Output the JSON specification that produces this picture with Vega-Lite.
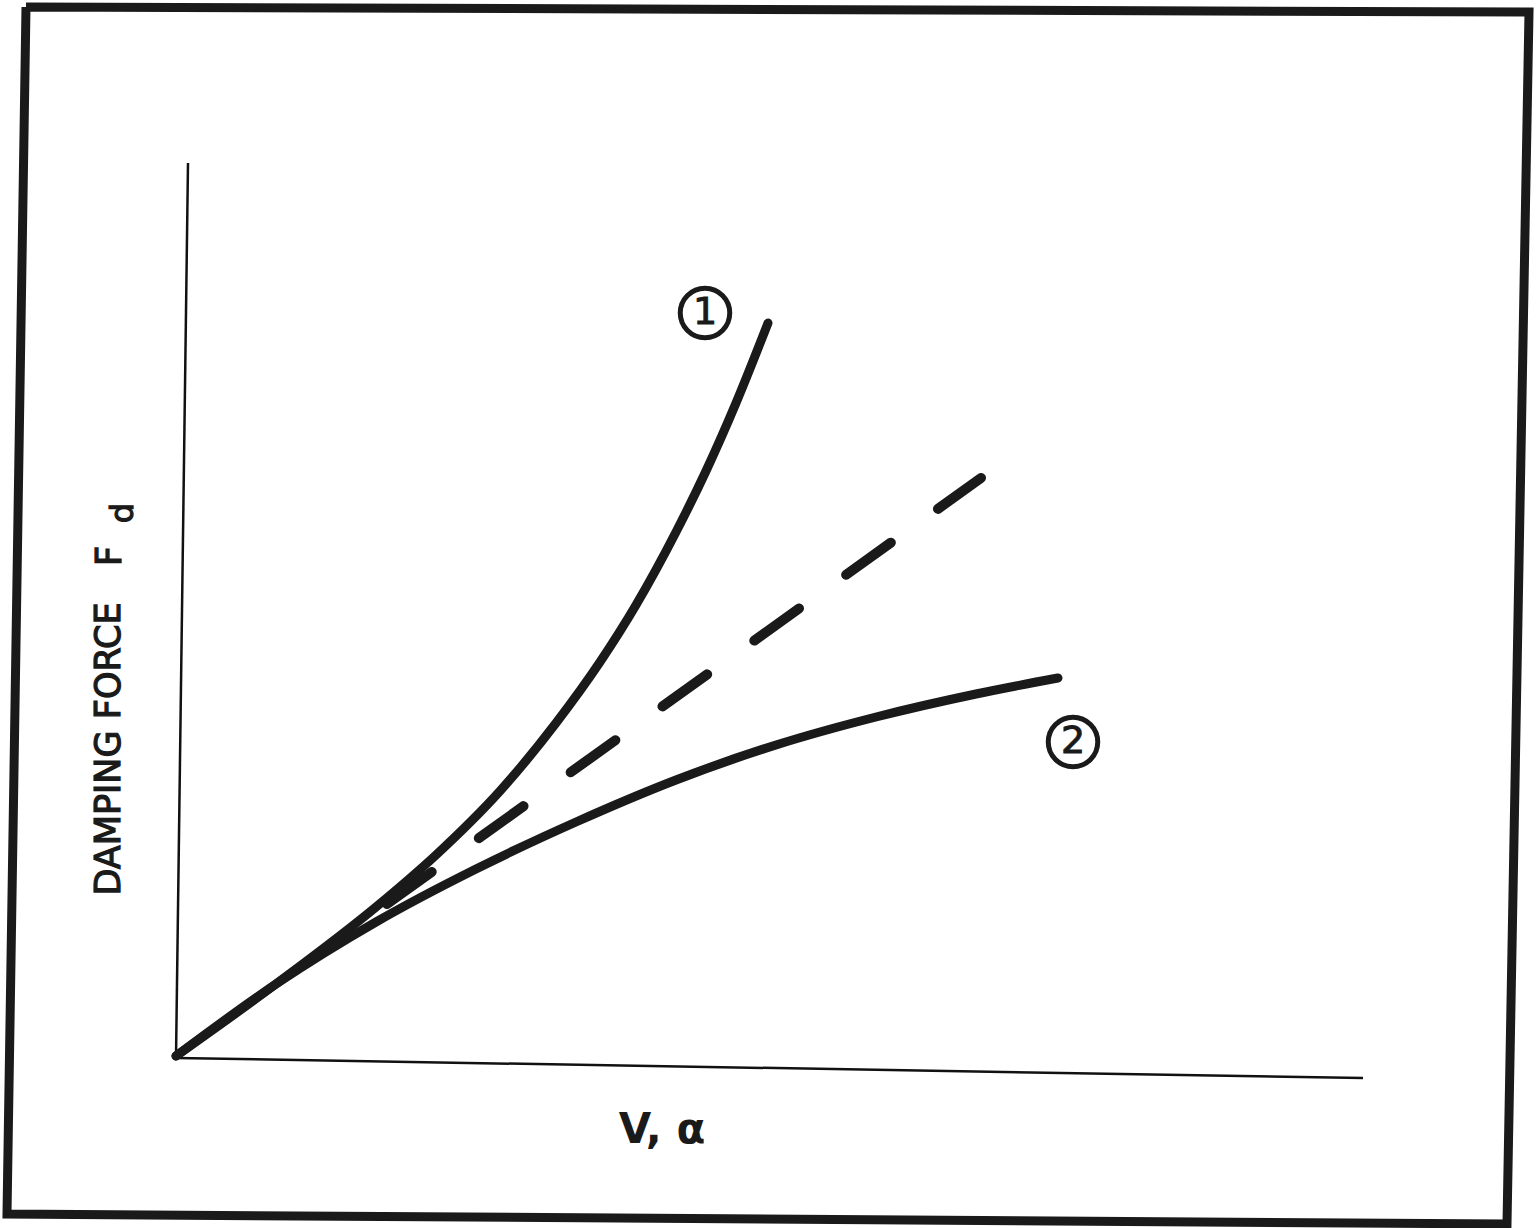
{
  "$schema": "https://vega.github.io/schema/vega-lite/v6.json",
  "width": 1536,
  "height": 1228,
  "autosize": "none",
  "padding": 0,
  "background": "white",
  "config": {"view": {"stroke": null}},
  "resolve": {"scale": {"x": "shared", "y": "shared"}},
  "layer": [
    {
      "data": {"values": [
        {"x": -1.50, "y": 10.51, "o": 0},
        {"x": 13.53, "y": 10.46, "o": 1},
        {"x": 13.31, "y": -1.66, "o": 2},
        {"x": -1.69, "y": -1.56, "o": 3},
        {"x": -1.50, "y": 10.51, "o": 4}
      ]},
      "mark": {"type": "line", "color": "#1a1a1a", "strokeWidth": 9, "strokeJoin": "miter", "clip": false},
      "encoding": {
        "x": {"field": "x", "type": "quantitative", "scale": {"domain": [-1.76, 13.60], "nice": false, "zero": false}, "axis": null},
        "y": {"field": "y", "type": "quantitative", "scale": {"domain": [-1.70, 10.58], "nice": false, "zero": false}, "axis": null},
        "order": {"field": "o"}
      }
    },
    {
      "data": {"values": [
        {"x": 0, "y": 0, "x2": 0.12, "y2": 8.95},
        {"x": 0, "y": 0, "x2": 11.87, "y2": -0.20}
      ]},
      "mark": {"type": "rule", "color": "#111", "strokeWidth": 2.5},
      "encoding": {
        "x": {"field": "x", "type": "quantitative"},
        "y": {"field": "y", "type": "quantitative"},
        "x2": {"field": "x2"},
        "y2": {"field": "y2"}
      }
    },
    {
      "data": {"values": [
        {"curve": "1", "x": 0.00, "y": 0.02},
        {"curve": "1", "x": 1.00, "y": 0.74},
        {"curve": "1", "x": 2.00, "y": 1.51},
        {"curve": "1", "x": 2.60, "y": 2.03},
        {"curve": "1", "x": 3.24, "y": 2.67},
        {"curve": "1", "x": 3.80, "y": 3.35},
        {"curve": "1", "x": 4.24, "y": 3.96},
        {"curve": "1", "x": 4.60, "y": 4.53},
        {"curve": "1", "x": 5.00, "y": 5.26},
        {"curve": "1", "x": 5.30, "y": 5.87},
        {"curve": "1", "x": 5.60, "y": 6.55},
        {"curve": "1", "x": 5.92, "y": 7.35},
        {"curve": "2", "x": 0.00, "y": 0.02},
        {"curve": "2", "x": 1.00, "y": 0.74},
        {"curve": "2", "x": 2.00, "y": 1.36},
        {"curve": "2", "x": 3.00, "y": 1.89},
        {"curve": "2", "x": 4.00, "y": 2.36},
        {"curve": "2", "x": 5.00, "y": 2.78},
        {"curve": "2", "x": 6.00, "y": 3.13},
        {"curve": "2", "x": 7.00, "y": 3.41},
        {"curve": "2", "x": 8.00, "y": 3.64},
        {"curve": "2", "x": 8.82, "y": 3.80}
      ]},
      "mark": {"type": "line", "color": "#1a1a1a", "strokeWidth": 9, "strokeCap": "round", "interpolate": "monotone"},
      "encoding": {
        "x": {"field": "x", "type": "quantitative"},
        "y": {"field": "y", "type": "quantitative"},
        "detail": {"field": "curve"}
      }
    },
    {
      "data": {"values": [
        {"x": 2.11, "y": 1.54, "x2": 8.05, "y2": 5.80}
      ]},
      "mark": {"type": "rule", "color": "#1a1a1a", "strokeWidth": 10, "strokeCap": "round", "strokeDash": [55, 58]},
      "encoding": {
        "x": {"field": "x", "type": "quantitative"},
        "y": {"field": "y", "type": "quantitative"},
        "x2": {"field": "x2"},
        "y2": {"field": "y2"}
      }
    },
    {
      "data": {"values": [
        {"label": "1", "x": 5.29, "y": 7.45},
        {"label": "2", "x": 8.97, "y": 3.16}
      ]},
      "mark": {"type": "point", "shape": "circle", "filled": false, "size": 2450, "color": "#1a1a1a", "strokeWidth": 5, "opacity": 1},
      "encoding": {
        "x": {"field": "x", "type": "quantitative"},
        "y": {"field": "y", "type": "quantitative"}
      }
    },
    {
      "data": {"values": [
        {"label": "1", "x": 5.29, "y": 7.45},
        {"label": "2", "x": 8.97, "y": 3.16}
      ]},
      "mark": {"type": "text", "font": "DejaVu Sans", "fontSize": 38, "color": "#1a1a1a", "align": "center", "baseline": "middle", "stroke": "#1a1a1a", "strokeWidth": 1},
      "encoding": {
        "x": {"field": "x", "type": "quantitative"},
        "y": {"field": "y", "type": "quantitative"},
        "text": {"field": "label"}
      }
    },
    {
      "data": {"values": [
        {"label": "V, α", "x": 4.86, "y": -0.72}
      ]},
      "mark": {"type": "text", "font": "DejaVu Sans", "fontSize": 42, "fontWeight": "bold", "color": "#1a1a1a", "align": "center", "baseline": "middle"},
      "encoding": {
        "x": {"field": "x", "type": "quantitative"},
        "y": {"field": "y", "type": "quantitative"},
        "text": {"field": "label"}
      }
    },
    {
      "data": {"values": [
        {"label": "DAMPING  FORCE", "x": -0.67, "y": 3.09},
        {"label": "F", "x": -0.66, "y": 5.02}
      ]},
      "mark": {"type": "text", "font": "DejaVu Sans", "fontSize": 35, "color": "#1a1a1a", "align": "center", "baseline": "middle", "angle": 270, "stroke": "#1a1a1a", "strokeWidth": 1.2},
      "encoding": {
        "x": {"field": "x", "type": "quantitative"},
        "y": {"field": "y", "type": "quantitative"},
        "text": {"field": "label"}
      }
    },
    {
      "data": {"values": [
        {"label": "d", "x": -0.53, "y": 5.45}
      ]},
      "mark": {"type": "text", "font": "DejaVu Sans", "fontSize": 32, "color": "#1a1a1a", "align": "center", "baseline": "middle", "angle": 270, "stroke": "#1a1a1a", "strokeWidth": 1.2},
      "encoding": {
        "x": {"field": "x", "type": "quantitative"},
        "y": {"field": "y", "type": "quantitative"},
        "text": {"field": "label"}
      }
    }
  ]
}
